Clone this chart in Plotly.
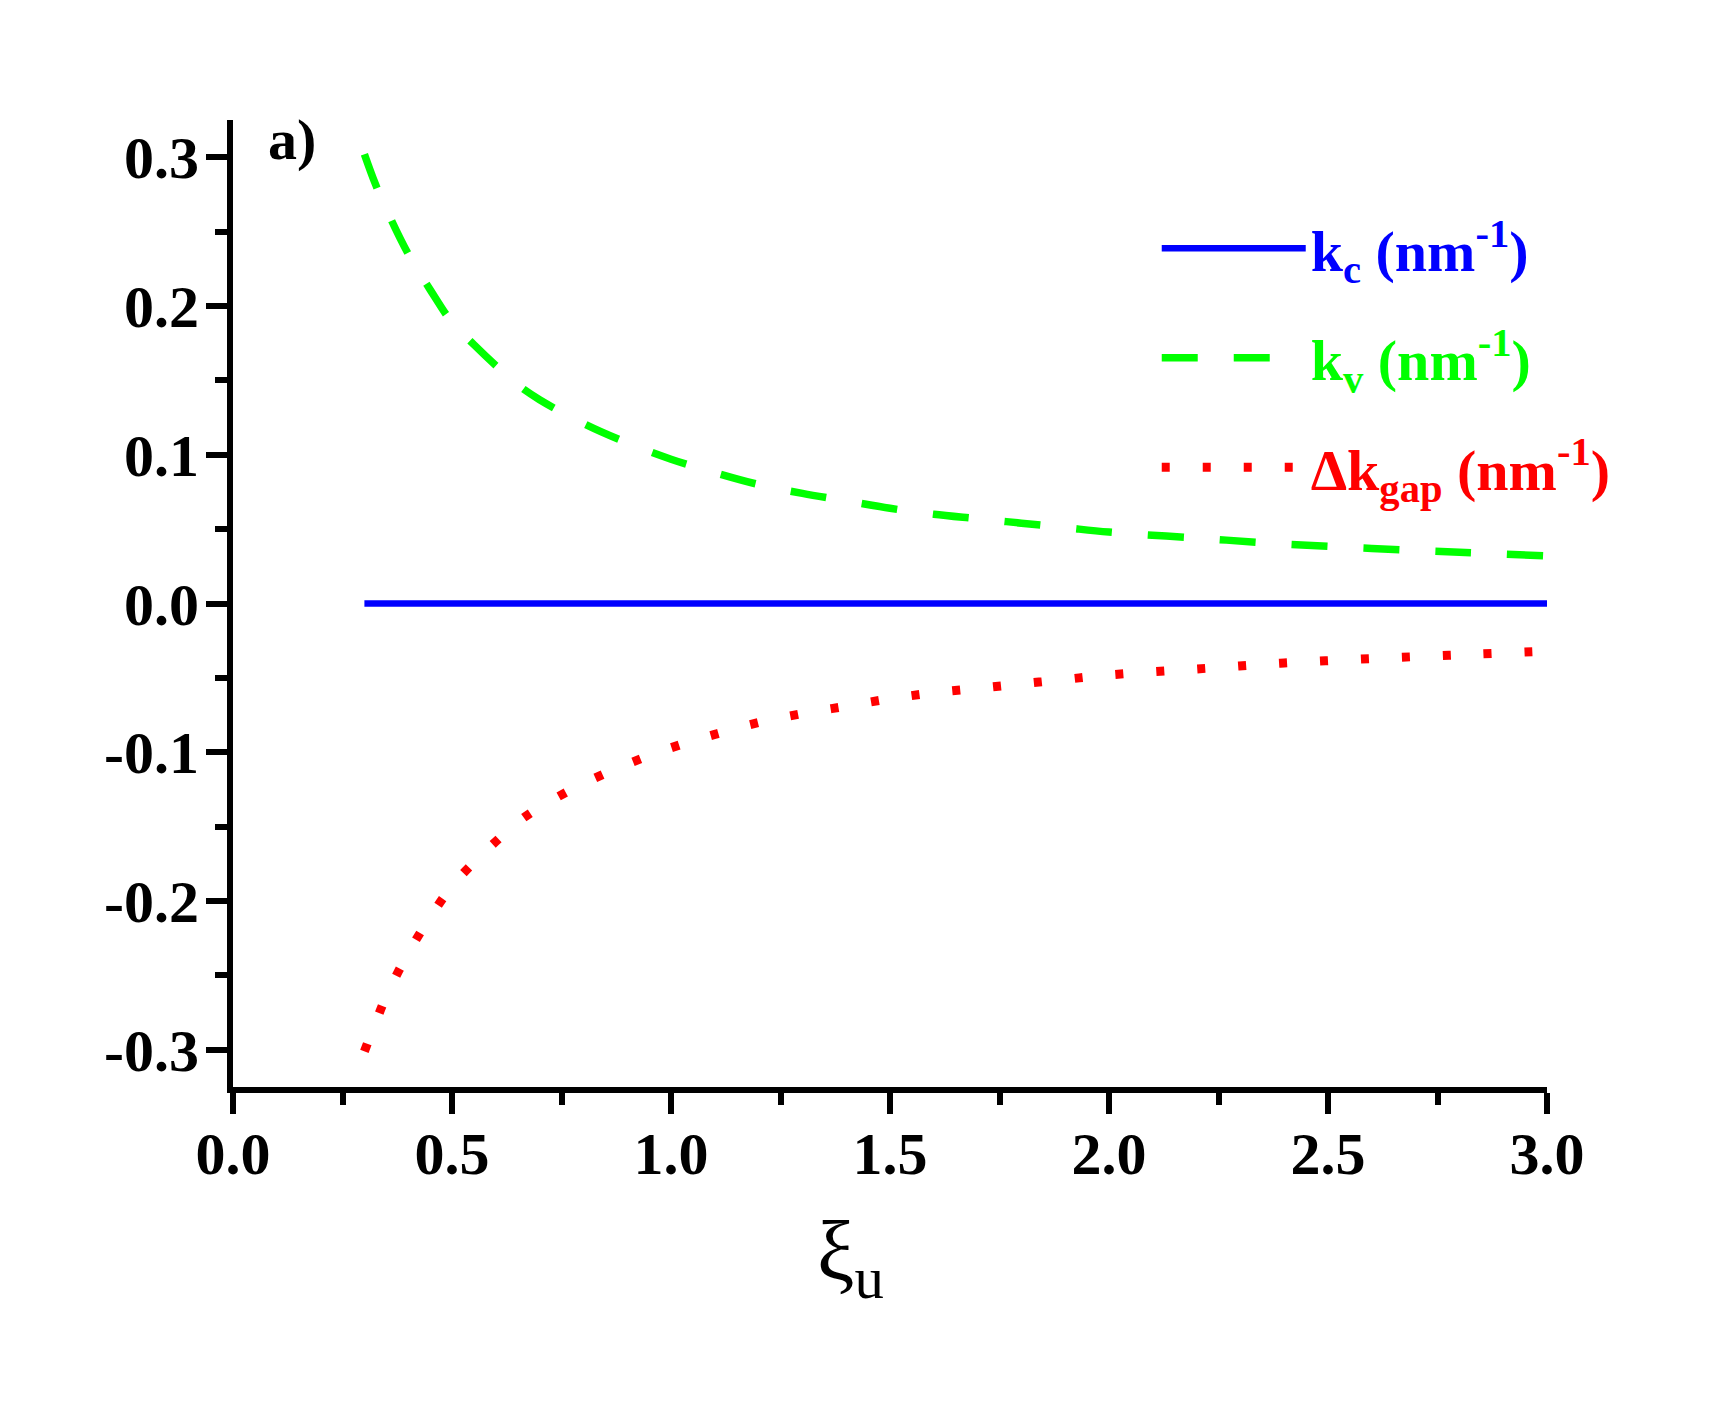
import plotly.graph_objects as go

# Data
xi_u = [0.3, 0.325, 0.35, 0.4, 0.45, 0.5, 0.55, 0.6, 0.65, 0.7, 0.8, 0.9, 1.0, 1.1, 1.2,
        1.3, 1.4, 1.5, 1.6, 1.7, 1.8, 1.9, 2.0, 2.2, 2.4, 2.6, 2.8, 3.0]
k_c = [0.0] * len(xi_u)
k_v = [0.302, 0.282, 0.265, 0.235, 0.211, 0.189, 0.174, 0.160, 0.147, 0.137, 0.121, 0.108,
       0.097, 0.088, 0.080, 0.074, 0.069, 0.064, 0.060, 0.057, 0.054, 0.051, 0.048, 0.044,
       0.040, 0.037, 0.0345, 0.032]
dk_gap = [-0.301, -0.282, -0.264, -0.235, -0.211, -0.190, -0.174, -0.160, -0.147, -0.137,
          -0.121, -0.108, -0.097, -0.088, -0.080, -0.074, -0.069, -0.064, -0.060, -0.057,
          -0.054, -0.051, -0.048, -0.044, -0.040, -0.037, -0.0345, -0.032]

y_ticks = [-0.3, -0.2, -0.1, 0.0, 0.1, 0.2, 0.3]
y_ticklabels = ["-0.3", "-0.2", "-0.1", "0.0", "0.1", "0.2", "0.3"]
x_ticks = [0.0, 0.5, 1.0, 1.5, 2.0, 2.5, 3.0]
x_ticklabels = ["0.0", "0.5", "1.0", "1.5", "2.0", "2.5", "3.0"]

BLUE = "#0000FF"
GREEN = "#00FF00"
RED = "#FF0000"
FONT = "Liberation Serif"

fig = go.Figure()
fig.add_trace(go.Scatter(
    x=xi_u, y=k_c, mode="lines", legendgroup="a",
    line=dict(color=BLUE, width=6.5),
    name=f'<span style="color:{BLUE}"><b>k<sub>c</sub> (nm<sup>-1</sup>)</b></span>'))
fig.add_trace(go.Scatter(
    x=xi_u, y=k_v, mode="lines", legendgroup="b",
    line=dict(color=GREEN, width=7.5, dash="36px,36px", shape="spline"),
    name=f'<span style="color:{GREEN}"><b>k<sub>v</sub> (nm<sup>-1</sup>)</b></span>'))
fig.add_trace(go.Scatter(
    x=xi_u, y=dk_gap, mode="lines", legendgroup="c",
    line=dict(color=RED, width=9, dash="8px,33px", shape="spline"),
    name=f'<span style="color:{RED}"><b>Δk<sub>gap</sub> (nm<sup>-1</sup>)</b></span>'))

axis_common = dict(
    showgrid=False, zeroline=False, showline=True, linecolor="black", linewidth=6,
    ticks="outside", ticklen=21, tickwidth=6, tickcolor="black",
    tickfont=dict(family=FONT, size=60, color="black", weight="bold"),
)

fig.update_xaxes(range=[0, 3], tickvals=x_ticks, ticktext=x_ticklabels,
                 minor=dict(dtick=0.25, ticklen=12, tickwidth=6, tickcolor="black", ticks="outside"),
                 ticklabelstandoff=-12, **axis_common)
fig.update_yaxes(range=[-0.325, 0.325], tickvals=y_ticks, ticktext=y_ticklabels,
                 minor=dict(dtick=0.05, ticklen=12, tickwidth=6, tickcolor="black", ticks="outside"),
                 ticklabelstandoff=-5, **axis_common)

fig.update_layout(
    width=1709, height=1421,
    margin=dict(l=233, r=162, t=120, b=334),
    plot_bgcolor="white", paper_bgcolor="white",
    font=dict(family=FONT, size=58, color="black"),
    showlegend=True,
    legend=dict(x=0.703, y=0.913, xanchor="left", yanchor="top",
                bgcolor="rgba(0,0,0,0)", itemwidth=144, tracegroupgap=31,
                font=dict(family=FONT, size=58)),
    annotations=[
        dict(text="<b>a)</b>", xref="paper", yref="paper", x=0.025, y=0.98,
             xanchor="left", yanchor="middle", showarrow=False,
             font=dict(family=FONT, size=58, color="black")),
        dict(text="ξ<sub>u</sub>", xref="paper", yref="paper", x=0.47, y=-0.177,
             xanchor="center", yanchor="middle", showarrow=False,
             font=dict(family=FONT, size=84, color="black")),
    ],
)

fig.write_html("out.html")
